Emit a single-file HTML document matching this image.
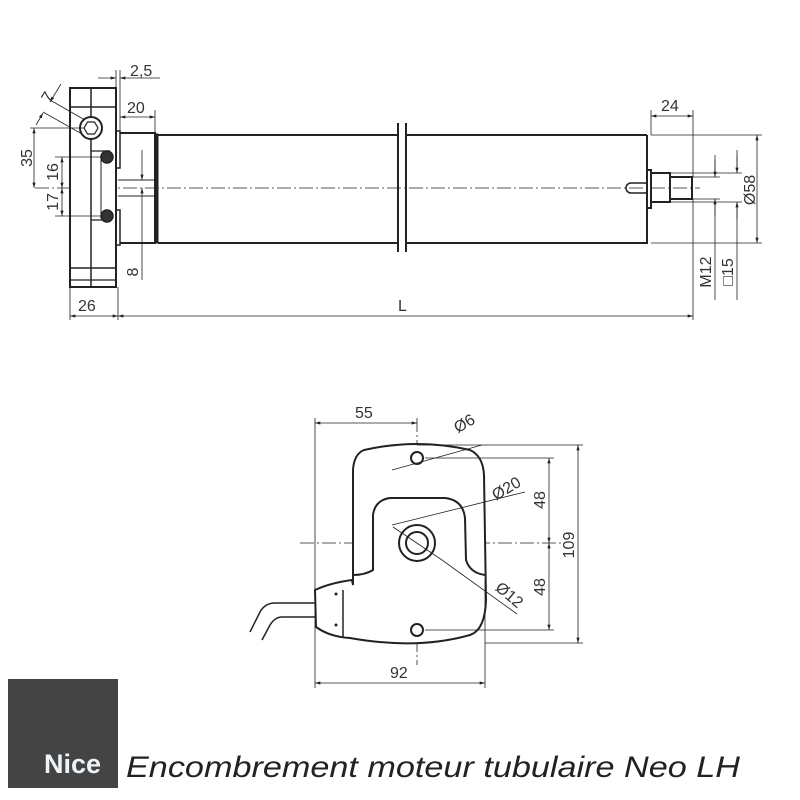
<!DOCTYPE html>
<html><head><meta charset="utf-8"><style>
body{margin:0;background:#fff}
svg{display:block}
text{font-family:"Liberation Sans",sans-serif;fill:#333}
</style></head><body>
<svg width="800" height="800" viewBox="0 0 800 800" xmlns="http://www.w3.org/2000/svg">
<defs>
<marker id="a" viewBox="0 0 10 6" refX="10" refY="3" markerWidth="8" markerHeight="4" orient="auto-start-reverse"><path d="M0 0L10 3L0 6z" fill="#222"/></marker>
</defs>
<g stroke="#222" fill="none">
<line x1="35" y1="188" x2="700" y2="188" stroke-width="0.8" stroke-dasharray="14 3 2 3"/>
<rect x="70" y="88" width="46" height="199" stroke-width="2" fill="#fff"/>
<line x1="91" y1="88" x2="91" y2="287" stroke-width="1.5"/>
<line x1="70" y1="107" x2="116" y2="107" stroke-width="1.5"/>
<line x1="70" y1="268" x2="116" y2="268" stroke-width="1.5"/>
<line x1="70" y1="280" x2="116" y2="280" stroke-width="1.2"/>
<line x1="91" y1="151" x2="110" y2="151" stroke-width="1.2"/>
<line x1="91" y1="220" x2="110" y2="220" stroke-width="1.2"/>
<line x1="101" y1="158" x2="101" y2="216" stroke-width="1"/>
<circle cx="91" cy="128" r="11" stroke-width="2" fill="#fff"/>
<polygon points="98,128 94.5,134 87.5,134 84,128 87.5,122 94.5,122" stroke-width="1.2"/>
<circle cx="107" cy="157" r="6" fill="#333" stroke-width="1.5"/>
<circle cx="107" cy="216" r="6" fill="#333" stroke-width="1.5"/>
<rect x="116" y="131" width="4" height="37" stroke-width="1.5"/>
<rect x="116" y="210" width="4" height="35" stroke-width="1.5"/>
<path d="M120 133H155V243H120" stroke-width="2"/>
<rect x="155" y="134" width="3" height="109" fill="#222" stroke-width="1"/>
<path d="M118 180H155M118 196H155" stroke-width="1"/>
<path d="M158 135H398M158 243H398" stroke-width="2"/>
<path d="M406 135H647M406 243H647V135" stroke-width="2"/>
<line x1="398" y1="123" x2="398" y2="252" stroke-width="2"/>
<line x1="406" y1="123" x2="406" y2="252" stroke-width="2"/>
<rect x="647" y="170" width="4" height="38" fill="#fff" stroke-width="2"/>
<rect x="651" y="173" width="19" height="29" stroke-width="2"/>
<rect x="670" y="177" width="22" height="22" stroke-width="2"/>
<path d="M647 183H631A5 5 0 0 0 631 193H647" stroke-width="1.5"/>
<g stroke-width="0.8">
<path d="M116 88V70M120 131V70"/>
<line x1="98" y1="78" x2="116" y2="78" marker-end="url(#a)"/>
<line x1="160" y1="78" x2="120" y2="78" marker-end="url(#a)"/>
<path d="M155 133V110"/>
<line x1="120" y1="117" x2="155" y2="117" marker-start="url(#a)" marker-end="url(#a)"/>
<path d="M70 287V320M118 287V320M693 199V320"/>
<line x1="70" y1="316" x2="118" y2="316" marker-start="url(#a)" marker-end="url(#a)"/>
<line x1="118" y1="316" x2="693" y2="316" marker-start="url(#a)" marker-end="url(#a)"/>
<path d="M30 128H85M55 157H103M55 216H103"/>
<line x1="34" y1="128" x2="34" y2="188" marker-start="url(#a)" marker-end="url(#a)"/>
<line x1="62" y1="157" x2="62" y2="188" marker-start="url(#a)" marker-end="url(#a)"/>
<line x1="62" y1="188" x2="62" y2="216" marker-start="url(#a)" marker-end="url(#a)"/>
<line x1="142" y1="280" x2="142" y2="188" marker-end="url(#a)"/>
<line x1="142" y1="150" x2="142" y2="180" marker-end="url(#a)"/>
<path d="M50 100L85 120M43 112L82 134"/>
<line x1="61" y1="84" x2="50" y2="102" marker-end="url(#a)"/>
<line x1="36" y1="125" x2="43" y2="113" marker-end="url(#a)"/>
<path d="M651 135V110M693 177V110"/>
<line x1="651" y1="116" x2="693" y2="116" marker-start="url(#a)" marker-end="url(#a)"/>
<path d="M651 135H762M651 243H762"/>
<line x1="757" y1="135" x2="757" y2="243" marker-start="url(#a)" marker-end="url(#a)"/>
<path d="M692 177H720M692 199H720M670 173H742M670 202H742"/>
<path d="M715 155V177M715 199V300M737 150V173M737 202V300"/>
<line x1="715" y1="160" x2="715" y2="177" marker-end="url(#a)"/>
<line x1="715" y1="216" x2="715" y2="199" marker-end="url(#a)"/>
<line x1="737" y1="156" x2="737" y2="173" marker-end="url(#a)"/>
<line x1="737" y1="219" x2="737" y2="202" marker-end="url(#a)"/>
</g>
<line x1="300" y1="543" x2="565" y2="543" stroke-width="0.8" stroke-dasharray="14 3 2 3"/>
<line x1="417" y1="418" x2="417" y2="665" stroke-width="0.8" stroke-dasharray="14 3 2 3"/>
<path d="M315 603 L275 603 Q265 603 260 612 L250 632 M315 617 L282 617 Q275 617 270 625 L262 640" stroke-width="1.5"/>
<path d="M364 450 Q417 438 470 450 Q483 456 484 475 L486 600 Q485 630 470 635 Q417 650 350 638 Q330 637 316 627 L315 590 Q330 583 352 580 L353 585 L353 470 Q354 454 364 450Z" stroke-width="2" fill="#fff"/>
<path d="M343 590V638" stroke-width="1.5"/>
<path d="M353 575 Q365 575 373 570 L373 515 Q375 500 390 498 L445 498 Q463 500 465 518 L466 560 Q470 573 485 575" stroke-width="2"/>
<circle cx="336" cy="594" r="1" fill="#222"/>
<circle cx="336" cy="625" r="1" fill="#222"/>
<circle cx="417" cy="458" r="6" stroke-width="2" fill="#fff"/>
<circle cx="417" cy="630" r="6" stroke-width="2" fill="#fff"/>
<circle cx="417" cy="543" r="18" stroke-width="2"/>
<circle cx="417" cy="543" r="11" stroke-width="2"/>
<g stroke-width="0.8">
<path d="M392 525L525 492M393 527L442 560L517 614M392 470L482 445"/>
<path d="M315 418V688M485 580V688M417 445H583M425 458H554M425 630H554M485 643H583"/>
<line x1="315" y1="423" x2="417" y2="423" marker-start="url(#a)" marker-end="url(#a)"/>
<line x1="315" y1="683" x2="485" y2="683" marker-start="url(#a)" marker-end="url(#a)"/>
<line x1="549" y1="458" x2="549" y2="543" marker-start="url(#a)" marker-end="url(#a)"/>
<line x1="549" y1="543" x2="549" y2="630" marker-start="url(#a)" marker-end="url(#a)"/>
<line x1="578" y1="445" x2="578" y2="643" marker-start="url(#a)" marker-end="url(#a)"/>
</g>
</g>
<g font-size="16">
<text x="130" y="76">2,5</text>
<text x="127" y="113">20</text>
<text x="78" y="311">26</text>
<text x="398" y="311">L</text>
<text x="661" y="111">24</text>
<text transform="translate(32,158) rotate(-90)" text-anchor="middle">35</text>
<text transform="translate(58,172) rotate(-90)" text-anchor="middle">16</text>
<text transform="translate(58,202) rotate(-90)" text-anchor="middle">17</text>
<text transform="translate(138,272) rotate(-90)" text-anchor="middle">8</text>
<text transform="translate(52,100) rotate(-58)" text-anchor="middle">7</text>
<text transform="translate(711,272) rotate(-90)" text-anchor="middle">M12</text>
<text transform="translate(733,272) rotate(-90)" text-anchor="middle">□15</text>
<text transform="translate(755,190) rotate(-90)" text-anchor="middle">Ø58</text>
<text x="355" y="418">55</text>
<text transform="translate(467,428) rotate(-30)" text-anchor="middle">Ø6</text>
<text transform="translate(509,493) rotate(-30)" text-anchor="middle">Ø20</text>
<text transform="translate(506,599) rotate(40)" text-anchor="middle">Ø12</text>
<text transform="translate(545,500) rotate(-90)" text-anchor="middle">48</text>
<text transform="translate(545,587) rotate(-90)" text-anchor="middle">48</text>
<text transform="translate(574,545) rotate(-90)" text-anchor="middle">109</text>
<text x="390" y="678">92</text>
</g>
<rect x="8" y="679" width="110" height="109" fill="#444"/>
<text x="44" y="773" font-size="27" font-weight="bold" style="fill:#eef3f8">Nice</text>
<text x="126" y="777" font-size="30" font-style="italic" textLength="614" lengthAdjust="spacingAndGlyphs" style="fill:#222">Encombrement moteur tubulaire Neo LH</text>
</svg>
</body></html>
